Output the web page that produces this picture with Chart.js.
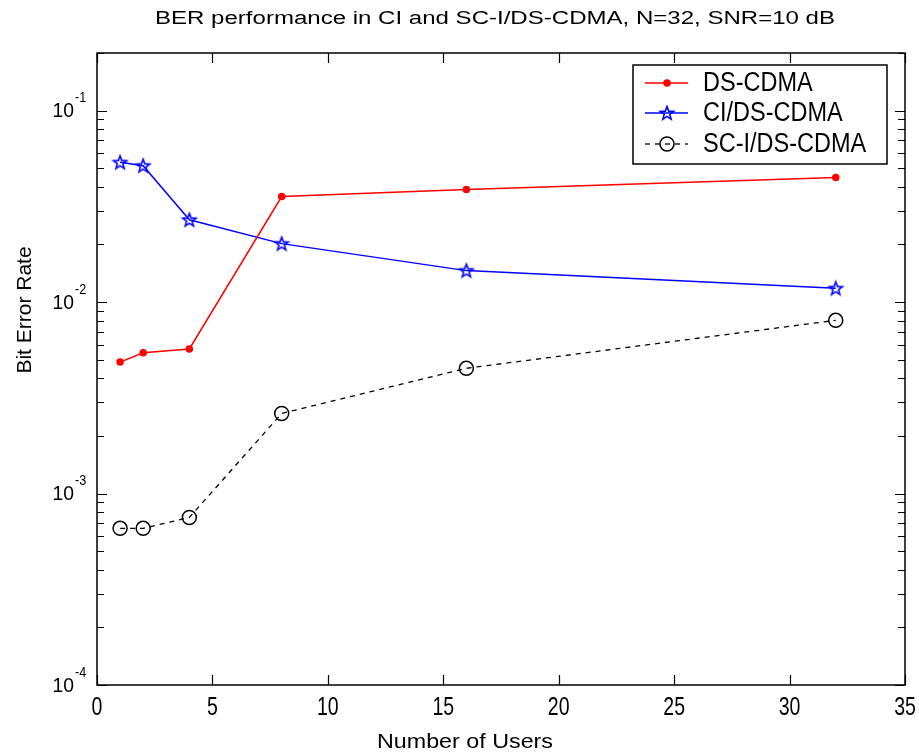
<!DOCTYPE html>
<html>
<head>
  <meta charset="UTF-8" />
  <title>BER performance</title>
  <script src="https://cdn.jsdelivr.net/npm/chart.js"></script>
  <style>
    html, body { margin: 0; padding: 0; background: #fff; }
    #c { display: block; }
  </style>
</head>
<body>
  <canvas id="c" width="919" height="756"></canvas>
  <script>
    // data
    const users = [1, 2, 4, 8, 16, 32];
    const berDS = [0.00486, 0.00544, 0.00569, 0.0356, 0.0387, 0.0448];
    const berCI = [0.0537, 0.0516, 0.0269, 0.0202, 0.0146, 0.0118];
    const berSCI = [0.000658, 0.000658, 0.000750, 0.00262, 0.00451, 0.00803];
    const xTicks = [0, 5, 10, 15, 20, 25, 30, 35];
    const yDecades = [1e-4, 1e-3, 1e-2, 1e-1];

    const FONT = "'Liberation Sans', Arial, sans-serif";

    function toPoints(ys) {
      return users.map((u, i) => ({ x: u, y: ys[i] }));
    }

    // text squeezed/stretched horizontally (the original image is resampled)
    function drawText(ctx, text, x, y, size, sx, align) {
      ctx.save();
      ctx.font = size + 'px ' + FONT;
      ctx.textAlign = align || 'center';
      ctx.textBaseline = 'middle';
      ctx.translate(x, y);
      ctx.scale(sx, 1);
      ctx.fillText(text, 0, 0);
      ctx.restore();
    }
    function drawFit(ctx, text, cx, cy, size, width) {
      ctx.save();
      ctx.font = size + 'px ' + FONT;
      const w = ctx.measureText(text).width;
      ctx.restore();
      drawText(ctx, text, cx, cy, size, width / w, 'center');
    }

    // pentagram marker (matlab 'p')
    function makeStar(color, r) {
      const cv = document.createElement('canvas');
      const s = Math.ceil(r * 2 + 4);
      cv.width = s; cv.height = s;
      const g = cv.getContext('2d');
      const cx = s / 2, cy = s / 2 + 0.5;
      g.beginPath();
      for (let i = 0; i < 10; i++) {
        const rr = i % 2 === 0 ? r : r * 0.42;
        const a = -Math.PI / 2 + i * Math.PI / 5;
        const px = cx + rr * Math.cos(a), py = cy + rr * Math.sin(a);
        if (i === 0) g.moveTo(px, py); else g.lineTo(px, py);
      }
      g.closePath();
      g.strokeStyle = color;
      g.lineWidth = 1.6;
      g.stroke();
      return cv;
    }
    const starImg = makeStar('#0000ff', 7);

    // axes box, inside ticks, tick labels, titles, legend
    const matlabAxes = {
      id: 'matlabAxes',
      afterDraw(chart) {
        const ctx = chart.ctx;
        const a = chart.chartArea;
        const xs = chart.scales.x, ys = chart.scales.y;
        ctx.save();
        ctx.strokeStyle = '#000';
        ctx.fillStyle = '#000';
        ctx.lineWidth = 1.5;
        ctx.strokeRect(a.left, a.top, a.right - a.left, a.bottom - a.top);

        ctx.lineWidth = 1.2;
        ctx.beginPath();
        xTicks.forEach(v => {
          const px = Math.round(xs.getPixelForValue(v)) + 0.5;
          ctx.moveTo(px, a.bottom); ctx.lineTo(px, a.bottom - 10);
          ctx.moveTo(px, a.top); ctx.lineTo(px, a.top + 10);
        });
        for (let d = -4; d <= -1; d++) {
          for (let m = 1; m <= 9; m++) {
            const v = m * Math.pow(10, d);
            if (v > ys.max) continue;
            const py = Math.round(ys.getPixelForValue(v)) + 0.5;
            const len = m === 1 ? 10 : 7;
            ctx.moveTo(a.left, py); ctx.lineTo(a.left + len, py);
            ctx.moveTo(a.right, py); ctx.lineTo(a.right - len, py);
          }
        }
        ctx.stroke();

        // x tick labels
        xTicks.forEach(v => {
          drawText(ctx, String(v), xs.getPixelForValue(v), 708, 25, 0.78, 'center');
        });

        // y tick labels 10^n
        yDecades.forEach(v => {
          const py = ys.getPixelForValue(v);
          const exp = String(Math.round(Math.log10(v)));
          drawText(ctx, exp, 75, py - 12, 14, 0.9, 'left');
          drawText(ctx, '10', 74, py + 1, 21, 0.92, 'right');
        });

        // title and axis labels
        drawFit(ctx, 'BER performance in CI and SC-I/DS-CDMA, N=32, SNR=10 dB', 495, 19, 18, 680);
        drawFit(ctx, 'Number of Users', 465, 742, 20, 176);
        ctx.save();
        ctx.translate(25, 310);
        ctx.rotate(-Math.PI / 2);
        drawText(ctx, 'Bit Error Rate', 0, 0, 21, 1, 'center');
        ctx.restore();

        // legend
        const lx = 633, ly = 65, lw = 254, lh = 99;
        ctx.fillStyle = '#fff';
        ctx.fillRect(lx, ly, lw, lh);
        ctx.lineWidth = 1.5;
        ctx.strokeStyle = '#000';
        ctx.strokeRect(lx, ly, lw, lh);
        const rows = [83, 113, 144];
        chart.data.datasets.forEach((ds, i) => {
          const y = rows[i];
          ctx.save();
          ctx.strokeStyle = ds.borderColor;
          ctx.lineWidth = ds.borderWidth;
          ctx.setLineDash(ds.borderDash || []);
          ctx.beginPath();
          ctx.moveTo(645, y); ctx.lineTo(688, y);
          ctx.stroke();
          ctx.setLineDash([]);
          ctx.fillStyle = ds.pointBackgroundColor || ds.borderColor;
          ctx.strokeStyle = ds.pointBorderColor || ds.borderColor;
          ctx.lineWidth = ds.pointBorderWidth || 1.5;
          Chart.helpers.drawPoint(ctx, {
            pointStyle: ds.pointStyle, radius: ds.pointRadius, borderWidth: ds.pointBorderWidth || 1.5, rotation: 0
          }, 667, y);
          ctx.fillStyle = '#000';
          drawText(ctx, ds.label, 703, y + 1, 27, 0.87, 'left');
          ctx.restore();
        });
        ctx.restore();
      }
    };

    const chart = new Chart(document.getElementById('c'), {
      type: 'line',
      data: {
        datasets: [
          {
            label: 'DS-CDMA', data: toPoints(berDS),
            borderColor: '#ff0000', backgroundColor: '#ff0000', borderWidth: 1.5,
            pointStyle: 'circle', pointRadius: 3, pointBackgroundColor: '#ff0000', pointBorderColor: '#ff0000'
          },
          {
            label: 'CI/DS-CDMA', data: toPoints(berCI),
            borderColor: '#0000ff', backgroundColor: '#0000ff', borderWidth: 1.5,
            pointStyle: starImg, pointRadius: 7
          },
          {
            label: 'SC-I/DS-CDMA', data: toPoints(berSCI),
            borderColor: '#000000', backgroundColor: 'rgba(0,0,0,0)', borderWidth: 1.3, borderDash: [5, 5],
            pointStyle: 'circle', pointRadius: 7, pointBorderWidth: 1.5,
            pointBackgroundColor: 'rgba(0,0,0,0)', pointBorderColor: '#000'
          }
        ]
      },
      options: {
        responsive: false,
        animation: false,
        devicePixelRatio: 1,
        layout: { padding: { top: 53, right: 14, left: 0, bottom: 0 } },
        plugins: { legend: { display: false }, tooltip: { enabled: false } },
        elements: { line: { tension: 0 } },
        scales: {
          x: {
            type: 'linear', min: 0, max: 35,
            afterBuildTicks: s => { s.ticks = xTicks.map(v => ({ value: v })); },
            ticks: { display: false },
            grid: { display: false, drawTicks: false },
            border: { display: false },
            afterFit: s => { s.height = 71; s.paddingLeft = 0; s.paddingRight = 0; }
          },
          y: {
            type: 'logarithmic', min: 1e-4, max: 0.2,
            afterBuildTicks: s => { s.ticks = yDecades.map(v => ({ value: v })); },
            ticks: { display: false },
            grid: { display: false, drawTicks: false },
            border: { display: false },
            afterFit: s => { s.width = 97; s.paddingTop = 0; s.paddingBottom = 0; }
          }
        }
      },
      plugins: [matlabAxes]
    });
  </script>
</body>
</html>
